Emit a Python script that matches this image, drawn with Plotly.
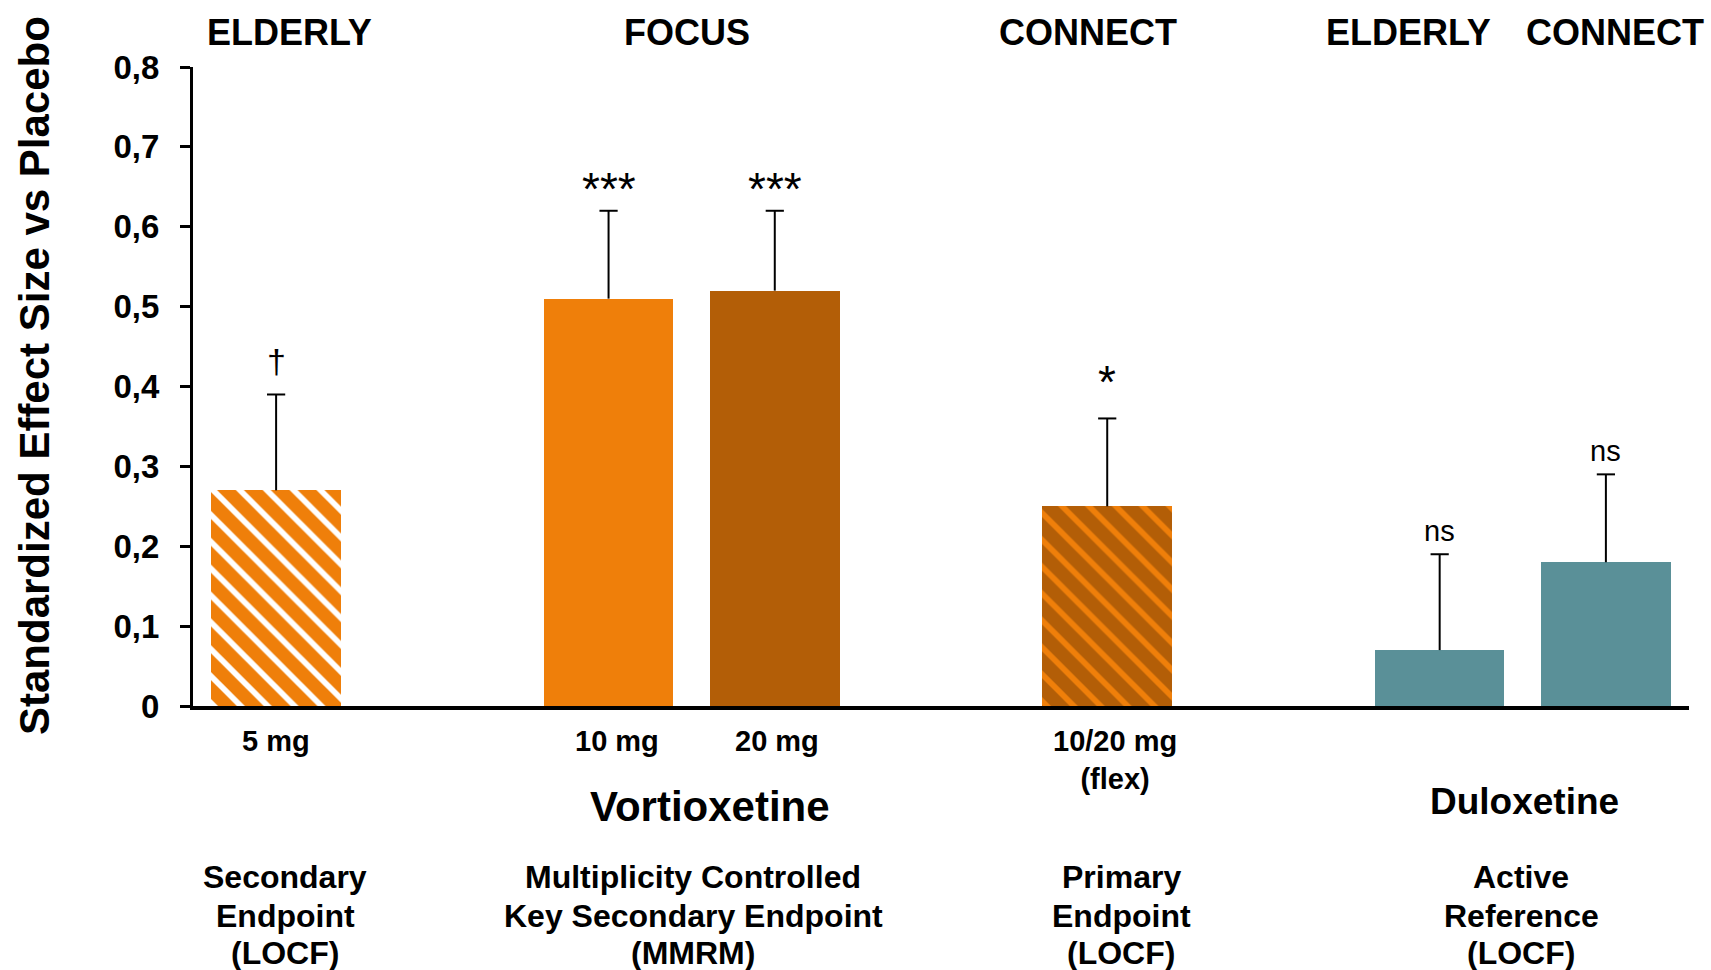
import plotly.graph_objects as go

# ---- data -----------------------------------------------------------------
bar_names = ["Vortioxetine 5 mg", "Vortioxetine 10 mg", "Vortioxetine 20 mg",
             "Vortioxetine 10/20 mg (flex)", "Duloxetine (ELDERLY)", "Duloxetine (CONNECT)"]
effect_size = [0.27, 0.51, 0.52, 0.25, 0.07, 0.18]
upper_error = [0.12, 0.11, 0.10, 0.11, 0.12, 0.11]
significance = ["†", "***", "***", "*", "ns", "ns"]
dose_labels = ["5 mg", "10 mg", "20 mg", "10/20 mg<br>(flex)", "", ""]
study_labels = ["ELDERLY", "FOCUS", "CONNECT", "ELDERLY", "CONNECT"]
drug_labels = ["Vortioxetine", "Duloxetine"]
endpoint_labels = [["Secondary", "Endpoint", "(LOCF)"],
                   ["Multiplicity Controlled", "Key Secondary Endpoint", "(MMRM)"],
                   ["Primary", "Endpoint", "(LOCF)"],
                   ["Active", "Reference", "(LOCF)"]]
y_tick_values = [0, 0.1, 0.2, 0.3, 0.4, 0.5, 0.6, 0.7, 0.8]
y_tick_labels = ["0", "0,1", "0,2", "0,3", "0,4", "0,5", "0,6", "0,7", "0,8"]

# ---- styling --------------------------------------------------------------
ORANGE = "#EF7F0A"
DARK_ORANGE = "#B35E07"
TEAL = "#5A9098"
FONT = "Liberation Sans, Arial, sans-serif"

slot = [0, 2, 3, 5, 7, 8]          # bar slots on the x axis (gaps between studies)
fill = [ORANGE, ORANGE, DARK_ORANGE, DARK_ORANGE, TEAL, TEAL]
hatch = ["\\", "", "", "\\", "", ""]
hatch_fg = ["#FFFFFF", None, None, ORANGE, None, None]

W, H = 1711, 970
ML, MR, MT, MB = 193, 22, 67, 264
PW, PH = W - ML - MR, H - MT - MB


def px_to_paper_y(py):
    return (H - MB - py) / PH


def px_to_paper_x(px):
    return (px - ML) / PW


fig = go.Figure()

# one trace per bar so each can carry its own fill / hatch
for i, (s, v) in enumerate(zip(slot, effect_size)):
    marker = dict(color=fill[i], line=dict(width=0))
    if hatch[i]:
        marker["pattern"] = dict(shape=hatch[i], fgcolor=hatch_fg[i], bgcolor=fill[i],
                                 size=19, solidity=0.3, fillmode="replace")
    fig.add_trace(go.Bar(x=[s], y=[v], width=0.78, name=bar_names[i],
                         marker=marker, showlegend=False))

# one-sided error bars: stem from bar top to upper limit, with a cap on top
stem_x, stem_y = [], []
for s, v, e in zip(slot, effect_size, upper_error):
    stem_x += [s, s, None]
    stem_y += [v, v + e, None]
fig.add_trace(go.Scatter(x=stem_x, y=stem_y, mode="lines",
                         line=dict(color="black", width=2),
                         hoverinfo="skip", showlegend=False))
fig.add_trace(go.Scatter(x=slot, y=[v + e for v, e in zip(effect_size, upper_error)],
                         mode="markers",
                         marker=dict(symbol="line-ew", size=13,
                                     line=dict(color="black", width=2)),
                         hoverinfo="skip", showlegend=False))

ann = []
# significance marks above each error bar
sig_style = {"†": (34, 12), "***": (46, -6), "*": (46, 8), "ns": (29, 5)}
for s, v, e, mark in zip(slot, effect_size, upper_error, significance):
    size, shift = sig_style[mark]
    ann.append(dict(x=s, y=v + e, xref="x", yref="y", text=mark, showarrow=False,
                    yanchor="bottom", yshift=shift,
                    font=dict(size=size, family=FONT, color="black")))

# study names across the top
for px, txt in zip([289, 687, 1088, 1408, 1615], study_labels):
    ann.append(dict(x=px_to_paper_x(px), y=px_to_paper_y(33), xref="paper", yref="paper",
                    text=txt, showarrow=False, xanchor="center", yanchor="middle",
                    font=dict(size=36, family=FONT, color="black", weight="bold")))

# dose labels under the bars
dose_x = [276, 617, 777, 1115]
for px, txt in zip(dose_x, dose_labels[:4]):
    ann.append(dict(x=px_to_paper_x(px), y=px_to_paper_y(723), xref="paper", yref="paper",
                    text=txt, showarrow=False, xanchor="center", yanchor="top",
                    font=dict(size=29, family=FONT, color="black", weight="bold")))

# drug names
for px, py, size, txt in zip([710, 1524], [806, 801], [42, 37], drug_labels):
    ann.append(dict(x=px_to_paper_x(px), y=px_to_paper_y(py), xref="paper", yref="paper",
                    text=txt, showarrow=False, xanchor="center", yanchor="middle",
                    font=dict(size=size, family=FONT, color="black", weight="bold")))

# endpoint descriptions, one annotation per line for tight line spacing
for px, lines in zip([285, 693, 1121, 1521], endpoint_labels):
    for py, line in zip([877, 916, 953], lines):
        ann.append(dict(x=px_to_paper_x(px), y=px_to_paper_y(py), xref="paper", yref="paper",
                        text=line, showarrow=False, xanchor="center", yanchor="middle",
                        font=dict(size=32, family=FONT, color="black", weight="bold")))

# y axis title
ann.append(dict(x=px_to_paper_x(34), y=px_to_paper_y(376), xref="paper", yref="paper",
                text="Standardized Effect Size vs Placebo", textangle=-90, showarrow=False,
                xanchor="center", yanchor="middle",
                font=dict(size=42, family=FONT, color="black", weight="bold")))

fig.update_layout(
    width=W, height=H,
    margin=dict(l=ML, r=MR, t=MT, b=MB, pad=0),
    paper_bgcolor="white", plot_bgcolor="white",
    font=dict(family=FONT, color="black"),
    annotations=ann,
    bargap=0, barmode="overlay",
)
fig.update_xaxes(range=[-0.5, 8.5], showline=True, linecolor="black", linewidth=3.5,
                 showticklabels=False, ticks="", showgrid=False, zeroline=False)
fig.update_yaxes(range=[0, 0.8], tickvals=y_tick_values, ticktext=y_tick_labels,
                 showline=True, linecolor="black", linewidth=3, ticks="outside",
                 ticklen=10, tickwidth=3, tickcolor="black", ticklabelstandoff=14,
                 tickfont=dict(size=33, family=FONT, color="black", weight="bold"),
                 showgrid=False, zeroline=False)

fig.write_html("out.html")
